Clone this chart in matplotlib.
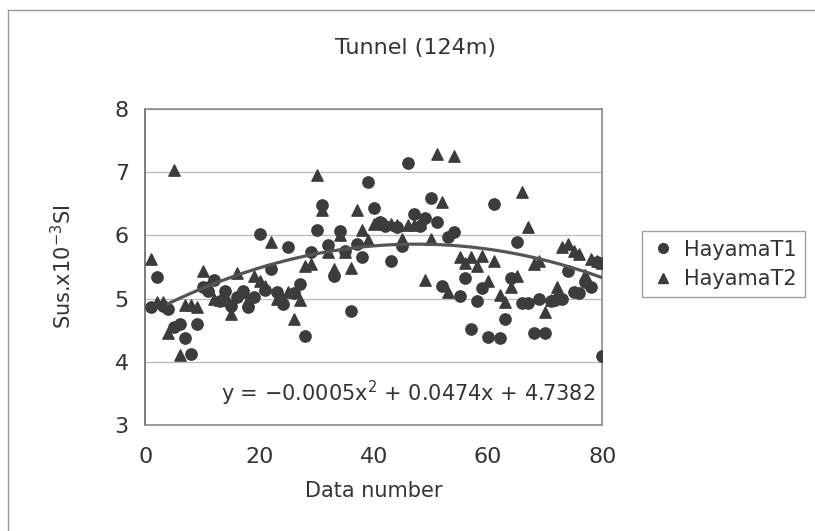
import numpy as np
import matplotlib
matplotlib.use('Agg')
import matplotlib.pyplot as plt
from matplotlib.lines import Line2D

# Data (data number 1..80)
data_number = list(range(1, 81))

hayama_t1 = [4.87, 5.34, 4.88, 4.84, 4.55, 4.60, 4.38, 4.12, 4.60, 5.18,
             5.12, 5.29, 4.96, 5.12, 4.88, 5.03, 5.12, 4.87, 5.03, 6.02,
             5.14, 5.46, 5.11, 4.92, 5.81, 5.08, 5.23, 4.41, 5.73, 6.08,
             6.48, 5.85, 5.35, 6.07, 5.76, 4.80, 5.87, 5.65, 6.85, 6.43,
             6.21, 6.15, 5.59, 6.13, 5.83, 7.14, 6.34, 6.15, 6.27, 6.59,
             6.21, 5.20, 5.97, 6.06, 5.04, 5.33, 4.51, 4.96, 5.16, 4.39,
             6.49, 4.37, 4.68, 5.33, 5.89, 4.93, 4.93, 4.45, 4.99, 4.45,
             4.96, 5.00, 4.99, 5.43, 5.10, 5.08, 5.26, 5.18, 5.58, 4.09]

hayama_t2 = [5.62, 4.95, 4.95, 4.45, 7.04, 4.11, 4.90, 4.90, 4.87, 5.44,
             5.20, 5.00, 4.98, 5.05, 4.76, 5.40, 5.10, 4.98, 5.35, 5.27,
             5.20, 5.89, 5.00, 5.00, 5.10, 4.68, 4.98, 5.51, 5.54, 6.96,
             6.40, 5.73, 5.46, 6.00, 5.73, 5.49, 6.40, 6.08, 5.92, 6.18,
             6.21, 6.18, 6.18, 6.16, 5.94, 6.16, 6.16, 6.20, 5.30, 5.94,
             7.29, 6.53, 5.11, 7.26, 5.65, 5.57, 5.65, 5.51, 5.67, 5.27,
             5.59, 5.06, 4.95, 5.19, 5.35, 6.69, 6.13, 5.54, 5.59, 4.79,
             4.98, 5.19, 5.81, 5.86, 5.76, 5.70, 5.38, 5.62, 5.59, 5.57]

# Polynomial trendline shown in the chart
trend_coef = [-0.0005, 0.0474, 4.7382]
trend_start, trend_end = 4, 80

mark_color = '#3c3c3c'
text_color = '#333333'

fig = plt.figure(figsize=(8.15, 5.31), dpi=100)
ax = fig.add_axes([0.1785, 0.2, 0.5605, 0.5945])

ax.scatter(data_number, hayama_t1, marker='o', s=66, color=mark_color, zorder=3)
ax.scatter(data_number, hayama_t2, marker='^', s=66, color=mark_color, zorder=3)

xt = np.linspace(trend_start, trend_end, 200)
ax.plot(xt, np.polyval(trend_coef, xt), color='#555555', lw=2.3, zorder=4)

ax.set_xlim(0, 80)
ax.set_ylim(3, 8)
ax.set_xticks([0, 20, 40, 60, 80])
ax.set_yticks([3, 4, 5, 6, 7, 8])
ax.grid(axis='y', color='#bdbdbd', lw=1.0)
ax.set_axisbelow(True)
ax.tick_params(axis='both', length=0, labelsize=16, colors=text_color)
ax.tick_params(axis='x', pad=16)
ax.tick_params(axis='y', pad=12)
for side in ['top', 'right', 'bottom', 'left']:
    ax.spines[side].set_color('#8a8a8a')
    ax.spines[side].set_linewidth(1.2)
ax.spines['left'].set_color('#666666')

ax.set_xlabel('Data number', fontsize=15, color=text_color, labelpad=10)
ax.set_ylabel('Sus.x10$^{-3}$SI', fontsize=15, color=text_color, labelpad=28)
fig.text(0.51, 0.91, 'Tunnel (124m)', ha='center', va='center',
         fontsize=16, color=text_color)
ax.text(0.985, 0.10, 'y = \u22120.0005x$^2$ + 0.0474x + 4.7382',
        transform=ax.transAxes, ha='right', va='center',
        fontsize=15, color=text_color)

handles = [Line2D([], [], ls='', marker='o', ms=7, color=mark_color),
           Line2D([], [], ls='', marker='^', ms=7, color=mark_color)]
fig.legend(handles, ['HayamaT1', 'HayamaT2'], loc='center left',
           bbox_to_anchor=(0.775, 0.502), frameon=True, fancybox=False,
           edgecolor='#8a8a8a', fontsize=15, handletextpad=0.4,
           borderpad=0.4, labelspacing=0.45, handlelength=1.2,
           labelcolor=text_color)

# outer chart frame (top and left edges visible in the scan)
fig.add_artist(Line2D([0.01, 1.0], [0.981, 0.981], transform=fig.transFigure,
                      color='#999999', lw=1.0))
fig.add_artist(Line2D([0.01, 0.01], [0.0, 0.981], transform=fig.transFigure,
                      color='#999999', lw=1.0))

fig.savefig('out.png', dpi=100)
